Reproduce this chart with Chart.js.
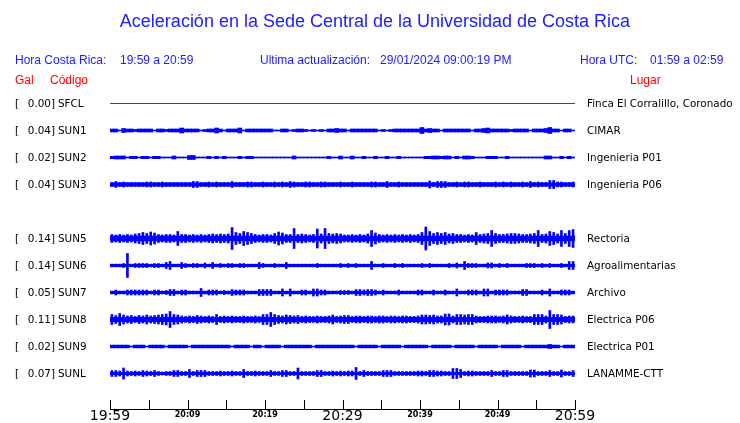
<!DOCTYPE html>
<html>
<head>
<meta charset="utf-8">
<script src="https://cdn.jsdelivr.net/npm/chart.js@4/dist/chart.umd.min.js"></script>
<style>
  body { margin: 0; background: #fff; }
  #wrap { position: relative; width: 740px; height: 423px; overflow: hidden; }
  #wrap canvas { position: absolute; left: 0; top: 0; }
  .t { position: absolute; white-space: pre; font-family: "Liberation Sans", Arial, sans-serif; font-size: 12px; line-height: 1; color: #2020ff; }
  .red { color: #ff0000; }
  .lbl { position: absolute; white-space: pre; font-family: "DejaVu Sans", sans-serif; font-size: 10.4px; line-height: 1; color: #000; }
</style>
</head>
<body>
<div id="wrap">
  <canvas id="sismo" width="740" height="423"></canvas>
  <div class="t" style="left:0;width:750px;text-align:center;top:12px;font-size:18px">Aceleración en la Sede Central de la Universidad de Costa Rica</div>
  <div class="t" style="left:15px;top:54px">Hora Costa Rica:</div>
  <div class="t" style="left:120px;top:54px">19:59 a 20:59</div>
  <div class="t" style="left:260px;top:54px">Ultima actualización:</div>
  <div class="t" style="left:380px;top:54px">29/01/2024 09:00:19 PM</div>
  <div class="t" style="left:580px;top:54px">Hora UTC:</div>
  <div class="t" style="left:650px;top:54px">01:59 a 02:59</div>
  <div class="t red" style="left:15px;top:74px">Gal</div>
  <div class="t red" style="left:50px;top:74px">Código</div>
  <div class="t red" style="left:630px;top:74px">Lugar</div>
</div>
<script>
// estaciones (SUN4 no aparece en la figura)
const codes = ['SFCL', 'SUN1', 'SUN2', 'SUN3', 'SUN5', 'SUN6', 'SUN7', 'SUN8', 'SUN9', 'SUNL'];
const gal = ['0.00', '0.04', '0.02', '0.04', '0.14', '0.14', '0.05', '0.11', '0.02', '0.07'];
const places = ['Finca El Corralillo, Coronado', 'CIMAR', 'Ingenieria P01', 'Ingenieria P06', 'Rectoria',
  'Agroalimentarias', 'Archivo', 'Electrica P06', 'Electrica P01', 'LANAMME-CTT'];

// eje de tiempo (minutos desde 19:59)
const tickLabels = ['19:59', '', '20:09', '', '20:19', '', '20:29', '', '20:39', '', '20:49', '', '20:59'];
const bigTicks = ['19:59', '20:29', '20:59'];
const sampleStep = 0.5;

// nivel de ruido de fondo y envolvente (media amplitud) cada 30 s
const noiseFloor = [0.5, 0.5, 0.5, 2, 2.7, 1.4, 1.5, 2.5, 0.5, 1.5];

const sfcl = [
  0,0,0,0,0,0,0,0,0,0, 0,0,0,0,0,0,0,0,0,0, 0,0,0,0,0,0,0,0,0,0,
  0,0,0,0,0,0,0,0,0,0, 0,0,0,0,0,0,0,0,0,0, 0,0,0,0,0,0,0,0,0,0,
  0,0,0,0,0,0,0,0,0,0, 0,0,0,0,0,0,0,0,0,0, 0,0,0,0,0,0,0,0,0,0,
  0,0,0,0,0,0,0,0,0,0, 0,0,0,0,0,0,0,0,0,0, 0,0,0,0,0,0,0,0,0,0
];
const sun1 = [
  1.5,1.5,0.5,2,1.5,1.5,1,1.5,1.5,1.5,  1.5,0.5,1.5,1.5,1,1.5,1.5,1.5,2.5,1.5,
  1.5,1.5,1.5,0.5,1,1.5,1.5,2.5,1.5,0.5,  1.5,1.5,1.5,2.5,0.5,1.5,1.5,1.5,1.5,1.5,
  1.5,1.5,0.5,0.5,1.5,1.5,0.5,1,1.5,1.5,  1,0.5,1,0.5,1,0.5,1.5,1.5,2,1.5,
  1.5,0.5,1.5,1.5,1.5,1.5,1.5,1.5,1.5,0.5,  1,0.5,1,1.5,1.5,1.5,1.5,1.5,1.5,1.5,
  3,1.5,2,1.5,1.5,0.5,1.5,1.5,1.5,1.5,  1.5,1.5,1.5,0.5,1.5,1.5,2,2.5,1.5,1.5,
  1.5,1.5,1.5,1,1.5,1.5,1.5,1.5,0.5,1.5,  1.5,1.5,2,3,1.5,1.5,0.5,1.5,1.5,0.5
];
const sun2 = [
  1.2,1.5,1.5,1.5,0.5,1.2,1.2,0.5,1.2,1.2,  0.5,1.2,1.2,0.5,0.5,0.5,1.5,0.5,0.5,0.5,
  2,2,0.5,0.5,0.5,1.2,0.5,1.2,0.5,1.2,  0.5,0.5,0.5,1.2,0.5,1.2,1.2,0.5,0.5,0.5,
  0.5,0.5,0.5,0.5,0.5,0.5,0.5,1.5,0.5,0.5,  0.5,0.5,0.5,0.5,0.5,0.5,1.2,0.5,0.5,1.5,
  0.5,0.5,1.5,0.5,0.5,1.2,0.5,0.5,1.2,0.5,  0.5,1.2,0.5,0.5,1.2,0.5,0.5,0.5,0.5,0.5,
  0.5,1.2,1.2,1.5,1.5,1.2,1.5,1.5,0.5,1.2,  0.5,1.5,1.5,1.2,0.5,0.5,0.5,1.2,1.2,1.2,
  0.5,0.5,1.2,0.5,0.5,0.5,0.5,0.5,0.5,0.5,  0.5,0.5,1.5,1.5,0.5,0.5,1.2,0.5,1.2,0.5
];
const sun3 = [
  2,3,2,2.5,2,2,2,2,2,2.5,  2.5,2,2,2.5,2,2,2,2,2,2,
  2,3,3,2,2,2.5,2,2.5,2,2,  2,3,2,2,2,2.5,2.5,2,2,2.5,
  2,2,2.5,2,2.5,2,3,2.5,2,2,  2.5,2.5,2,2,2.5,2.5,2,2,2,2.5,
  2,2,2.5,2,2,2,2,2.5,2.5,2,  2,3,2,2,2.5,2,2,2,2,2,
  2,2,3.5,2,3,3,3,2,2,2.5,  2,2.5,2.5,2,2,2.5,2,2,2,2.5,
  2,2.5,2,2.5,2,2,2.5,2,3,2,  2.5,2,2,4,4,2.5,2.5,2,2,2.5
];
const sun5 = [
  4,3.5,4,3.5,4,3.5,4.5,5,6,5,  6.5,5.5,4,3.5,4,4,3.5,7,4,4,
  3.5,4,3.5,4,3.5,4,4.5,4,4.5,4,  4.5,11,6,5,7,6,5,4,3.5,4,
  4,3.5,5,6.5,5.5,4,4,10,4,4.5,  4,3.5,4,9.5,4.5,10,5,4.5,5,4.5,
  3.5,3.5,4,3.5,4,3.5,4.5,8,5.5,4,  3.5,4,3.5,4,3.5,4,3.5,4,3.5,4,
  6,11.5,7,5,6,5,6,4.5,5,4,  4,3.5,4,3.5,6,4,4.5,5,8,5,
  4,4,4.5,5,5,4.5,4,4,4.5,5,  8,4,4.5,7,6,4.5,8,5,8,9
];
const sun6 = [
  1.4,1.4,1.4,2,12,1.4,2,2,2,2,  1.4,2,2,1.4,3,4,1.4,1.4,3,2,
  1.4,2,2,1.4,2.5,1.4,3,1.4,2,1.4,  2,2,1.4,2,2,1.4,1.4,1.4,3,2,
  1.4,1.4,2,1.4,1.4,3,1.4,1.4,1.4,1.4,  1.4,1.4,1.4,2,1.4,1.4,1.4,1.4,1.4,2,
  1.4,2,1.4,2,1.4,1.4,1.4,4,1.4,1.4,  2,1.4,1.4,2,1.4,2,1.4,1.4,1.4,1.4,
  2,1.4,2,1.4,1.4,1.4,1.4,2,1.4,2.5,  1.4,4,2,2,2,1.4,1.4,2.5,2.5,1.4,
  2,1.4,2,1.4,1.4,1.4,1.4,2,2,2,  1.4,2,1.4,2,1.4,1.4,2,1.4,4,4
];
const sun7 = [
  1.5,2.5,1.5,1.5,2.5,2.5,2.5,2.5,2.5,2.5,  1.5,2.5,2.5,1.5,2,3,3,1.5,2.5,2.5,
  1.5,1.5,1.5,4,1.5,2.5,2.5,2.5,1.5,2,  1.5,3,2.5,2.5,2.5,1.5,1.5,1.5,3,3,
  3,3,1.5,1.5,3.5,1.5,3.5,1.5,1.5,2.5,  2.5,1.5,3.5,3.5,2.5,2.5,1.5,1.5,1.5,2,
  2,2,1.5,3,3,2.5,3,3,2.5,1.5,  2.5,1.5,1.5,1.5,2.5,1.5,1.5,1.5,1.5,2.5,
  2.5,1.5,1.5,2.5,1.5,1.5,2.5,1.5,1.5,3.5,  1.5,1.5,2.5,2.5,2.5,1.5,3.5,3.5,1.5,2.5,
  2.5,2.5,2.5,1.5,1.5,1.5,3,3,1.5,1.5,  1.5,2.5,1.5,3.5,1.5,1.5,2.5,2.5,2.5,1.5
];
const sun8 = [
  5,4,6,4.5,3.5,4,3,4,3.5,4.5,  3.5,4,4.5,5,5.5,8,5,4.5,3.5,3,
  3.5,3,4,3.5,3,3.5,3,5,3,3.5,  3,3.5,3,3,3.5,3,3,3.5,3,5,
  5,7,5,4,3.5,4.5,4,3.5,4,3,  3.5,3,3,3.5,3,3,3.5,4.5,3,3.5,
  4,4,3,3.5,3.5,3,3.5,3.5,3,3.5,  3.5,3,3.5,3.5,3,3.5,3.5,3,3,3.5,
  4.5,4.5,4,4.5,3.5,3.5,5.5,5.5,3.5,5,  5,4.5,5,5,3.5,3,3,3.5,3.5,3.5,
  3,3.5,4.5,3.5,3,3,3.5,3,3,5,  5,5,3.5,9,5,5,4.5,3,3.5,3.5
];
const sun9 = [
  1.4,1.4,1.4,1.4,1.4,0.5,1.4,1.4,1.4,0.5,  1.4,1.4,1.4,1.4,0.5,1.4,1.4,1.4,1.4,1.4,
  0.5,1.4,1.4,1.4,1.4,1.4,1.4,1.4,1.4,1.4,  1.4,0.5,1.4,1.4,1.4,1.4,0.5,1.4,1.4,0.5,
  1.4,1.4,1.4,1.4,0.5,1.4,1.4,1.4,1.4,1.4,  1.4,1.4,0.5,1.4,1.4,1.4,1.4,1.4,1.4,1.4,
  1.4,1.4,1.4,0.5,1.4,1.4,1.4,1.4,1.4,0.5,  1.4,1.4,1.4,1.4,1.4,0.5,1.4,1.4,1.4,1.4,
  1.4,1.4,0.5,1.4,1.4,1.4,1.4,1.4,0.5,1.4,  1.4,1.4,1.4,1.4,0.5,1.4,1.4,1.4,1.4,1.4,
  0.5,1.4,1.4,1.4,1.4,1.4,0.5,1.4,1.4,1.4,  1.4,1.4,1.4,2,1.4,1.4,0.5,1.4,1.4,1.4
];
const sunl = [
  3,3,2.5,5.5,2.5,2,2.5,2,3,2.5,  2,3,2,1.5,2,2,3,3,2,2,
  4,2,3,3,3,2,2,2,2.5,2,  2,2.5,2,2,4,2,2,2.5,2,2,
  2,3,2,2,3,3,2,2,5.5,2,  2,2,2,3,3,2,2,2.5,2,2.5,
  2,2.5,2.5,6,2,3,2,2,2,2,  3,3,3,2,2,2,2,2,2,2.5,
  2.5,2,3,3,2.5,2.5,2,2,5,5,  4,2,2.5,2.5,2,2,2,2,3,2,
  2,3,3,2,2,2,2,2,3.5,3.5,  2,2,2,3,2,2,3.5,2,2,3
];
const traces = [sfcl, sun1, sun2, sun3, sun5, sun6, sun7, sun8, sun9, sunl];

// disposición: renglón de cada estación (el 4 queda vacío), pixeles por renglón
// y ancho de cada pico (las trazas con ruido se ven como picos finos)
const rowSlot = [0, 1, 2, 3, 5, 6, 7, 8, 9, 10];
const pxPerRow = 27;
const spikeWidth = [1, 4, 4, 2, 2, 2, 2, 2, 4, 2];
const traceColor = '#0000ff';

const datasets = [];
traces.forEach((amps, k) => {
  const row = rowSlot[k];
  const color = k === 0 ? '#ff0000' : traceColor;
  datasets.push({
    type: 'line',
    data: [{ x: 0, y: row }, { x: 60, y: row }],
    borderColor: color,
    borderWidth: Math.max(1, noiseFloor[k] * 2),
    borderCapStyle: 'butt',
    pointRadius: 0
  });
  // traza plana: solo la línea
  if (amps.every(a => a === 0)) return;
  datasets.push({
    type: 'bar',
    data: amps.map((a, i) => ({ x: i * sampleStep + sampleStep / 2, y: [row - a / pxPerRow, row + a / pxPerRow] })),
    backgroundColor: color,
    borderWidth: 0,
    barThickness: spikeWidth[k],
    grouped: false
  });
});

const upTicks = {
  id: 'upTicks',
  afterDraw(chart) {
    const sx = chart.scales.x;
    const ctx = chart.ctx;
    const b = chart.chartArea.bottom;
    ctx.save();
    ctx.strokeStyle = '#000';
    ctx.lineWidth = 1;
    sx.ticks.forEach(t => {
      const px = Math.round(sx.getPixelForValue(t.value)) + 0.5;
      ctx.beginPath();
      ctx.moveTo(px, b);
      ctx.lineTo(px, b - 9);
      ctx.stroke();
    });
    ctx.restore();
  }
};

const chart = new Chart(document.getElementById('sismo'), {
  type: 'bar',
  data: { datasets },
  options: {
    responsive: false,
    animation: false,
    events: [],
    layout: { padding: { top: 88, left: 110, right: 165, bottom: 0 } },
    plugins: { legend: { display: false }, tooltip: { enabled: false } },
    scales: {
      x: {
        type: 'linear',
        min: 0,
        max: 60,
        offset: false,
        afterFit: s => { s.height = 14; },
        grid: { drawOnChartArea: false, drawTicks: false, offset: false },
        border: { display: true, color: '#000', width: 1 },
        ticks: {
          stepSize: 5,
          autoSkip: false,
          maxRotation: 0,
          padding: 0,
          color: '#000',
          callback: v => tickLabels[Math.round(v / 5)],
          font: c => {
            const lab = c.tick ? tickLabels[Math.round(c.tick.value / 5)] : '';
            return bigTicks.includes(lab)
              ? { family: 'DejaVu Sans', size: 14, lineHeight: 1 }
              : { family: 'DejaVu Sans', size: 8, weight: 'bold', lineHeight: 1.4 };
          }
        }
      },
      y: {
        type: 'linear',
        display: false,
        reverse: true,
        min: -15.5 / pxPerRow,
        max: 10 + 35.5 / pxPerRow
      }
    }
  },
  plugins: [upTicks]
});

// etiquetas a izquierda y derecha de cada traza
const wrap = document.getElementById('wrap');
codes.forEach((code, k) => {
  const y = chart.scales.y.getPixelForValue(rowSlot[k]) - 5.5;
  const add = (txt, style) => {
    const d = document.createElement('div');
    d.className = 'lbl';
    d.textContent = txt;
    d.style.cssText += style + ';top:' + y + 'px';
    wrap.appendChild(d);
  };
  add('[', 'left:15px');
  add(gal[k] + ']', 'right:' + (740 - 55) + 'px');
  add(code, 'left:58px');
  add(places[k], 'left:587px');
});
</script>
</body>
</html>
